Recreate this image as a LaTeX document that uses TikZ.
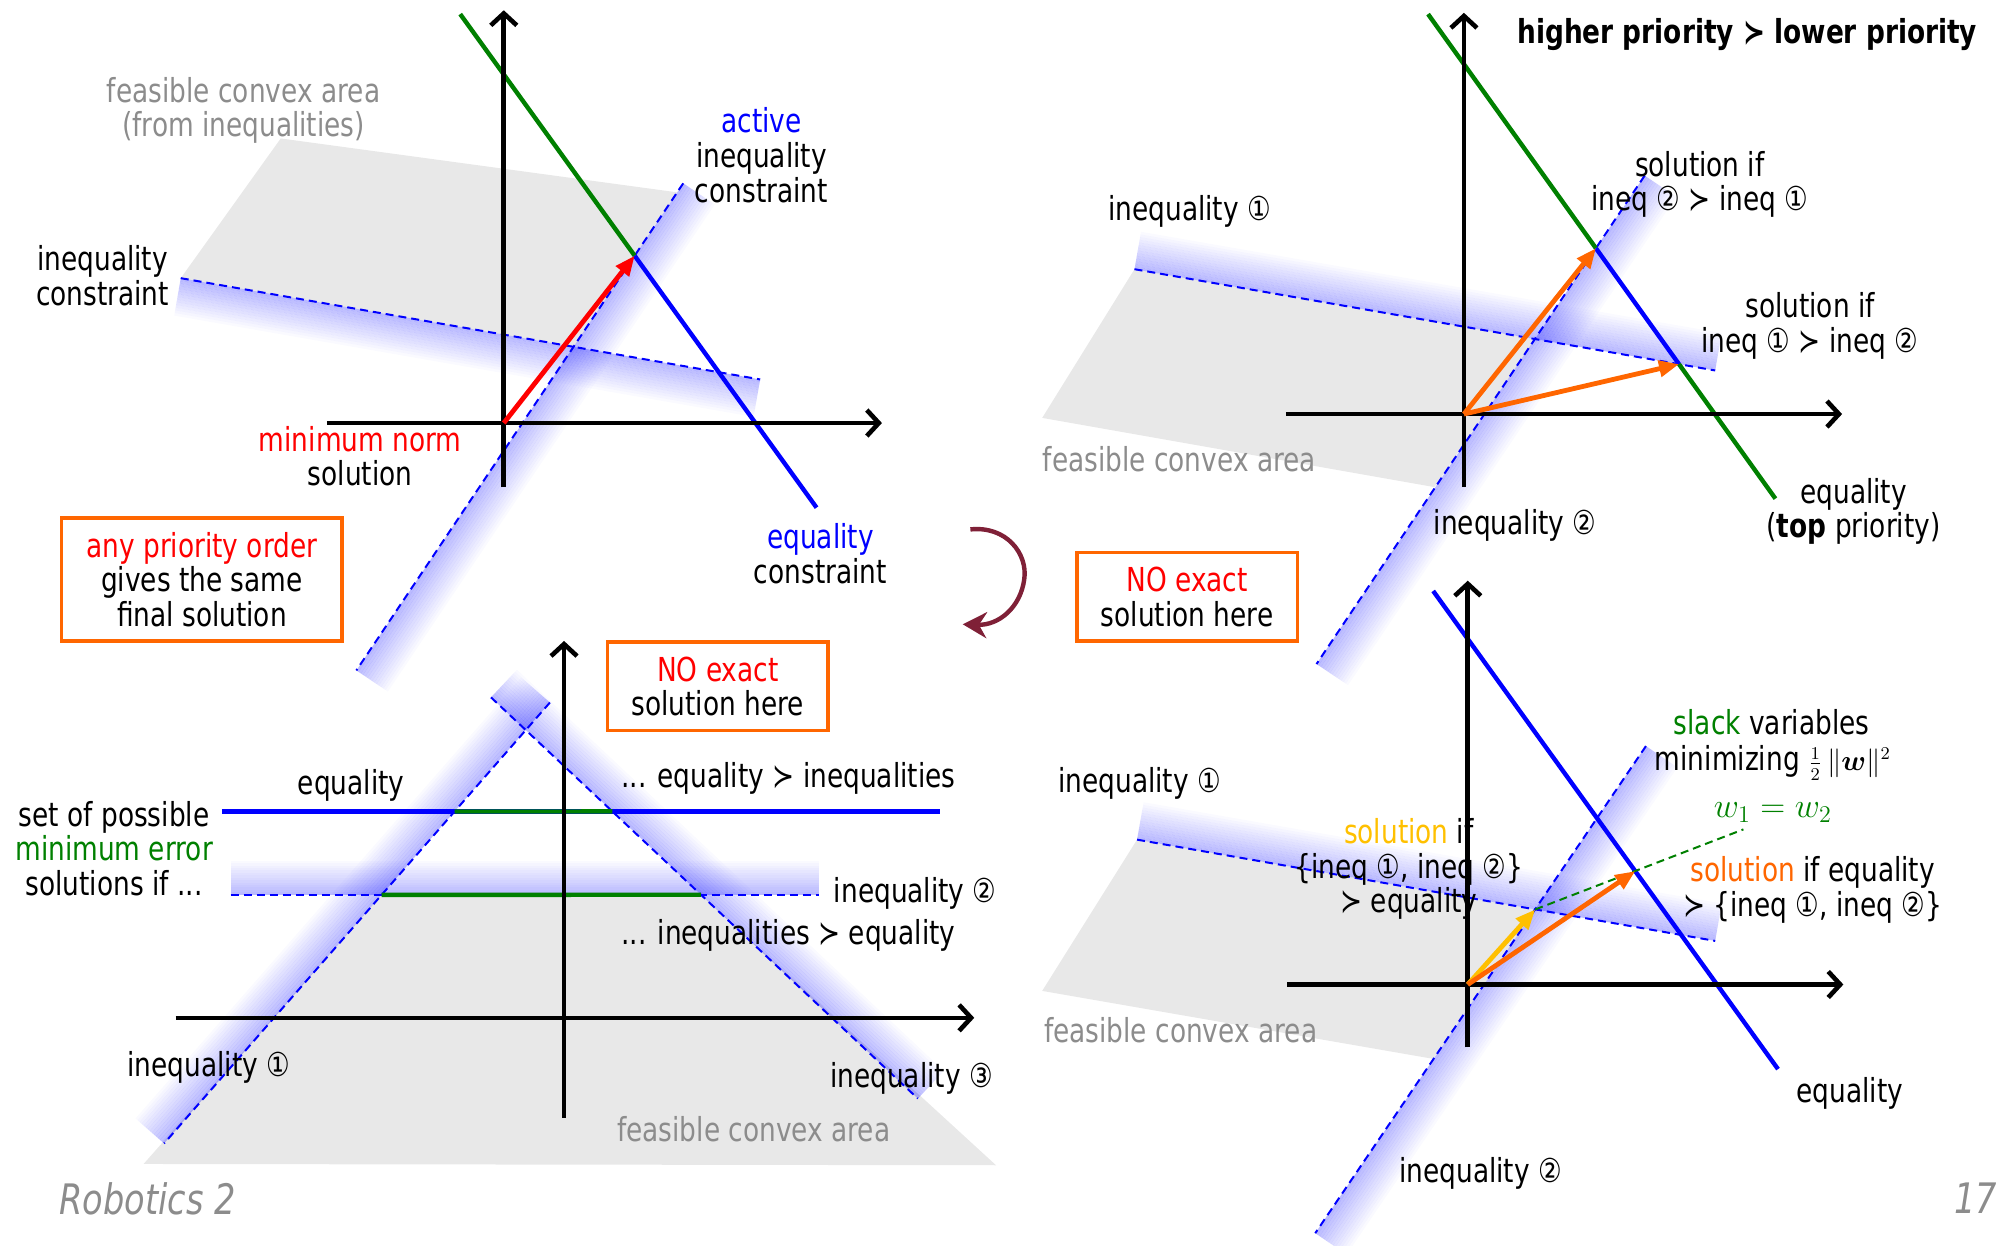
\documentclass[tikz,border=0pt]{standalone}
\usepackage{amsmath,bm}
\usepackage{fontspec}
\setmainfont{DejaVu Sans}[FakeStretch=0.8]
\usetikzlibrary{calc,arrows.meta}
\definecolor{eqblue}{RGB}{0,0,255}
\definecolor{eqgreen}{RGB}{0,128,0}
\definecolor{solred}{RGB}{255,0,0}
\definecolor{solorange}{RGB}{255,102,0}
\definecolor{solyellow}{RGB}{255,192,0}
\definecolor{feasgray}{RGB}{232,232,232}
\definecolor{txtgray}{RGB}{140,140,140}
\definecolor{arcmaroon}{RGB}{127,32,55}
\newcommand\tf{\fontsize{16.5pt}{17.3pt}\selectfont}
\newcommand\glowband[3]{%
  \foreach \k [evaluate=\k as \op using {0.27*(1-\k/14)},
               evaluate=\k as \da using {\k*(#3)/14},
               evaluate=\k as \db using {(\k+1)*(#3)/14}] in {0,...,13}{%
    \fill[eqblue,opacity=\op] ($(#1)!\da pt!90:(#2)$) -- ($(#2)!\da pt!-90:(#1)$)
      -- ($(#2)!\db pt!-90:(#1)$) -- ($(#1)!\db pt!90:(#2)$) -- cycle;}}
\tikzset{
  lbl/.style={font=\tf, align=center, inner sep=0pt},
  axis/.style={line width=2.3pt, -{Straight Barb[length=6pt,width=13pt]}},
  ineqline/.style={eqblue, line width=1pt, dash pattern=on 4pt off 2.5pt},
  slackline/.style={eqgreen, line width=1pt, dash pattern=on 4pt off 2.5pt},
  eqline/.style={line width=2.2pt},
  vec/.style={line width=2.4pt, -{Triangle[length=10pt,width=8pt]}},
  obox/.style={draw=solorange, line width=1.8pt, fill=white, font=\tf, align=center, inner sep=0pt},
}
\begin{document}
\begin{tikzpicture}[x=0.641pt, y=-0.641pt]
\path[use as bounding box] (0,0) rectangle (1568,972);

% ---------------- coordinates ----------------
% panel 1
\coordinate (O1) at (393,330);
\coordinate (V1b) at (393,380); \coordinate (V1t) at (393,8);
\coordinate (H1l) at (255,330); \coordinate (H1r) at (688,330);
\coordinate (Ia1) at (141,217); \coordinate (Ib1) at (593,296);
\coordinate (Aa1) at (533,143); \coordinate (Ab1) at (278,523);
\coordinate (Ea1) at (359,11);  \coordinate (Eb1) at (637,396);
\coordinate (P1) at (intersection of Ea1--Eb1 and Aa1--Ab1);
\coordinate (X1) at (intersection of Ia1--Ib1 and Aa1--Ab1);
% panel 2
\coordinate (O2) at (1142,323);
\coordinate (V2b) at (1142,380); \coordinate (V2t) at (1142,10);
\coordinate (H2l) at (1003,323); \coordinate (H2r) at (1437,323);
\coordinate (Ia2) at (885,210);  \coordinate (Ib2) at (1338,289);
\coordinate (Ja2) at (1283,137); \coordinate (Jb2) at (1027,518);
\coordinate (Ea2) at (1114,11);  \coordinate (Eb2) at (1385,389);
\coordinate (Q2a) at (intersection of Ea2--Eb2 and Ja2--Jb2);
\coordinate (Q2b) at (intersection of Ea2--Eb2 and Ia2--Ib2);
\coordinate (X2) at (intersection of Ia2--Ib2 and Ja2--Jb2);
% panel 3
\coordinate (O3) at (440,794);
\coordinate (V3b) at (440,872); \coordinate (V3t) at (440,500);
\coordinate (H3l) at (137,794); \coordinate (H3r) at (760,794);
\coordinate (K1a) at (429,548); \coordinate (K1b) at (128,892);
\coordinate (K3a) at (383,544); \coordinate (K3b) at (716,857);
\coordinate (K2a) at (180,698); \coordinate (K2b) at (639,698);
\coordinate (E3a) at (173,633); \coordinate (E3b) at (733,633);
\coordinate (G3a) at (intersection of K1a--K1b and E3a--E3b);
\coordinate (G3b) at (intersection of K3a--K3b and E3a--E3b);
\coordinate (G3c) at (intersection of K1a--K1b and K2a--K2b);
\coordinate (G3d) at (intersection of K3a--K3b and K2a--K2b);
% panel 4
\coordinate (O4) at (1145,768);
\coordinate (V4b) at (1145,817); \coordinate (V4t) at (1145,453);
\coordinate (H4l) at (1004,768); \coordinate (H4r) at (1438,768);
\coordinate (Ia4) at (887,655);  \coordinate (Ib4) at (1338,734);
\coordinate (Ja4) at (1284,582); \coordinate (Jb4) at (1026,962);
\coordinate (Ea4) at (1118,461); \coordinate (Eb4) at (1387,834);
\coordinate (X4) at (intersection of Ia4--Ib4 and Ja4--Jb4);
\coordinate (W4) at (1360,647);
\coordinate (R4) at (intersection of X4--W4 and Ea4--Eb4);

% ---------------- feasible areas ----------------
\fill[feasgray] (219,108) -- (528,150) -- (X1) -- (Ia1) -- cycle;
\fill[feasgray] (Ia2) -- (X2) -- (1119,380) -- (813,326) -- cycle;
\fill[feasgray] (G3c) -- (G3d) -- (777,909) -- (112,908) -- cycle;
\fill[feasgray] (Ia4) -- (X4) -- (1118,826) -- (813,773) -- cycle;

% ---------------- glow bands ----------------
\glowband{Ia1}{Ib1}{-19}
\glowband{Aa1}{Ab1}{19}
\glowband{Ia2}{Ib2}{19}
\glowband{Ja2}{Jb2}{19}
\glowband{K1a}{K1b}{-19}
\glowband{K3a}{K3b}{19}
\glowband{K2a}{K2b}{17}
\glowband{Ia4}{Ib4}{19}
\glowband{Ja4}{Jb4}{19}

% ---------------- inequality lines ----------------
\draw[ineqline] (Ia1) -- (Ib1);
\draw[ineqline] (Aa1) -- (Ab1);
\draw[ineqline] (Ia2) -- (Ib2);
\draw[ineqline] (Ja2) -- (Jb2);
\draw[ineqline] (K1a) -- (K1b);
\draw[ineqline] (K3a) -- (K3b);
\draw[ineqline] (K2a) -- (K2b);
\draw[ineqline] (Ia4) -- (Ib4);
\draw[ineqline] (Ja4) -- (Jb4);

% ---------------- equality lines ----------------
\draw[eqline, eqgreen] (Ea1) -- (P1);
\draw[eqline, eqblue] (P1) -- (Eb1);
\draw[eqline, eqgreen] (Ea2) -- (Q2a);
\draw[eqline, eqblue] (Q2a) -- (Q2b);
\draw[eqline, eqgreen] (Q2b) -- (Eb2);
\draw[eqline, eqblue] (E3a) -- (E3b);
\draw[eqline, eqgreen] (G3a) -- (G3b);
\draw[eqline, eqgreen] (G3c) -- (G3d);
\draw[eqline, eqblue] (Ea4) -- (Eb4);
\draw[slackline] (X4) -- (W4);

% ---------------- axes ----------------
\draw[axis] (V1b) -- (V1t); \draw[axis] (H1l) -- (H1r);
\draw[axis] (V2b) -- (V2t); \draw[axis] (H2l) -- (H2r);
\draw[axis] (V3b) -- (V3t); \draw[axis] (H3l) -- (H3r);
\draw[axis] (V4b) -- (V4t); \draw[axis] (H4l) -- (H4r);

% ---------------- solution vectors ----------------
\draw[vec, solred] (O1) -- (P1);
\draw[vec, solorange] (O2) -- (Q2a);
\draw[vec, solorange] (O2) -- (Q2b);
\draw[vec, solyellow] (O4) -- (X4);
\draw[vec, solorange] (O4) -- (R4);

% ---------------- texts panel 1 ----------------
\node[lbl, text=txtgray] (t1feas) at (190,86) {feasible convex area\\(from inequalities)};
\node[lbl] (t1act) at (594,121) {\textcolor{eqblue}{active}\\inequality\\constraint};
\node[lbl] (t1ineq) at (80,215) {inequality\\constraint};
\node[lbl] (t1min) at (281,356) {\textcolor{solred}{minimum norm}\\solution};
\node[lbl] (t1eq) at (640,432) {\textcolor{eqblue}{equality}\\constraint};
\node[obox, minimum width=140.4pt, minimum height=61.5pt] (box1) at (157.5,452)
  {\textcolor{solred}{any priority order}\\gives the same\\final solution};

% ---------------- texts panel 2 ----------------
\node[lbl, font=\tf\bfseries] (t2title) at (1363,27) {higher priority ≻ lower priority};
\node[lbl] (t2i1) at (928,165) {inequality ①};
\node[lbl] (t2s1) at (1326,144) {solution if\\ineq ② ≻ ineq ①};
\node[lbl] (t2s2) at (1412,254) {solution if\\ineq ① ≻ ineq ②};
\node[lbl, text=txtgray] (t2feas) at (920,358) {feasible convex area};
\node[lbl] (t2i2) at (1182,410) {inequality ②};
\node[lbl] (t2eq) at (1446,399) {equality\\(\textbf{top} priority)};
\node[obox, minimum width=110.3pt, minimum height=44.2pt] (box2) at (926,465.5)
  {\textcolor{solred}{NO exact}\\solution here};

% ---------------- texts panel 3 ----------------
\node[obox, minimum width=110.3pt, minimum height=44.2pt] (box3) at (560,535.5)
  {\textcolor{solred}{NO exact}\\solution here};
\node[lbl] (t3eq) at (274,613) {equality};
\node[lbl] (t3set) at (89,662) {set of possible\\\textcolor{eqgreen}{minimum error}\\solutions if ...};
\node[lbl] (t3a) at (615,607) {... equality ≻ inequalities};
\node[lbl] (t3i2) at (714,697) {inequality ②};
\node[lbl] (t3b) at (615,730) {... inequalities ≻ equality};
\node[lbl] (t3i1) at (163,833) {inequality ①};
\node[lbl] (t3i3) at (711,841) {inequality ③};
\node[lbl, text=txtgray] (t3feas) at (588,881) {feasible convex area};

% ---------------- texts panel 4 ----------------
\node[lbl] (t4i1) at (889,611) {inequality ①};
\node[lbl] (t4slack) at (1382,563) {\textcolor{eqgreen}{slack} variables};
\node[lbl, anchor=base] (t4min) at (1383,601) {minimizing {\fontsize{13.5pt}{15pt}\selectfont$\tfrac{1}{2}\,\|\bm{w}\|^2$}};
\node[lbl, text=eqgreen] (t4w) at (1383,634) {$w_1 = w_2$};
\node[lbl] (t4sy) at (1099,678) {\textcolor{solyellow}{solution} if\\\{ineq ①, ineq ②\}\\≻ equality};
\node[lbl] (t4so) at (1414,694) {\textcolor{solorange}{solution} if equality\\≻ \{ineq ①, ineq ②\}};
\node[lbl, text=txtgray] (t4feas) at (921,804) {feasible convex area};
\node[lbl] (t4eq) at (1443,853) {equality};
\node[lbl] (t4i2) at (1155,915) {inequality ②};

% ---------------- footer ----------------
\node[lbl, text=txtgray, font=\fontsize{21pt}{24pt}\selectfont\itshape] (robo) at (115,935) {Robotics 2};
\node[lbl, text=txtgray, font=\fontsize{21pt}{24pt}\selectfont\itshape] (pnum) at (1541,935) {17};

% ---------------- curved arrow ----------------
\coordinate (arcS) at (757,413);
\coordinate (arcE) at (751,487);
\draw[arcmaroon, line width=2.2pt, -{Stealth[length=12pt,width=13pt]}]
  (arcS) .. controls (785,410) and (802,432) .. (799,452)
         .. controls (796,474) and (779,488) .. (arcE);
\end{tikzpicture}
\end{document}
